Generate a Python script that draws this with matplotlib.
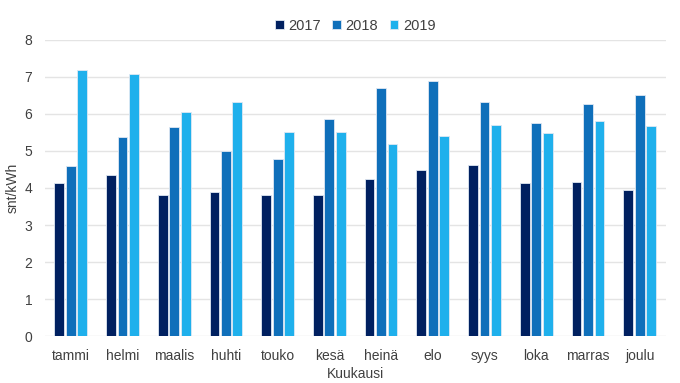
import numpy as np
import matplotlib.pyplot as plt

plt.rcParams['font.family'] = ['Liberation Sans', 'DejaVu Sans']

# data (snt/kWh)
months = ["tammi", "helmi", "maalis", "huhti", "touko", "kesä",
          "heinä", "elo", "syys", "loka", "marras", "joulu"]
years = ["2017", "2018", "2019"]
v2017 = [4.13, 4.35, 3.80, 3.89, 3.80, 3.80, 4.23, 4.49, 4.61, 4.14, 4.17, 3.95]
v2018 = [4.60, 5.38, 5.64, 4.99, 4.78, 5.85, 6.69, 6.88, 6.32, 5.75, 6.26, 6.50]
v2019 = [7.17, 7.08, 6.05, 6.32, 5.50, 5.50, 5.20, 5.39, 5.71, 5.48, 5.80, 5.67]
colors = ["#002060", "#0F6FBA", "#1FB0EC"]

fig = plt.figure(figsize=(6.8, 3.83), dpi=100)
ax = fig.add_axes([0.066, 0.122, 0.9127, 0.7743])

x = np.arange(len(months))
step = 0.222
w = 0.19
for i, (vals, c, lab) in enumerate(zip([v2017, v2018, v2019], colors, years)):
    ax.bar(x + (i - 1) * step, vals, width=w, color=c, edgecolor="#dfe8f3",
           linewidth=0.6, label=lab, zorder=3)

ax.set_xlim(-0.5, len(months) - 0.5)
ax.set_ylim(0, 8)
ax.set_yticks(range(0, 9))
ax.set_xticks(x)
ax.set_xticklabels(months)
ax.grid(axis="y", color="#e4e4e4", linewidth=1, zorder=0)
for s in ax.spines.values():
    s.set_visible(False)
ax.tick_params(length=0, labelsize=10, colors="#404040", pad=9)
ax.tick_params(axis="y", pad=9)
ax.set_xlabel("Kuukausi", fontsize=10, color="#404040", labelpad=3)
ax.set_ylabel("snt/kWh", fontsize=10, color="#404040")
ax.yaxis.set_label_coords(-0.04, 0.5)

ax.legend(loc="upper center", bbox_to_anchor=(0.5, 1.115), ncol=3, frameon=False,
          fontsize=10.5, handlelength=0.6, handleheight=0.6, handletextpad=0.3,
          columnspacing=0.8, labelcolor="#404040")

fig.savefig("out.png", dpi=100)
